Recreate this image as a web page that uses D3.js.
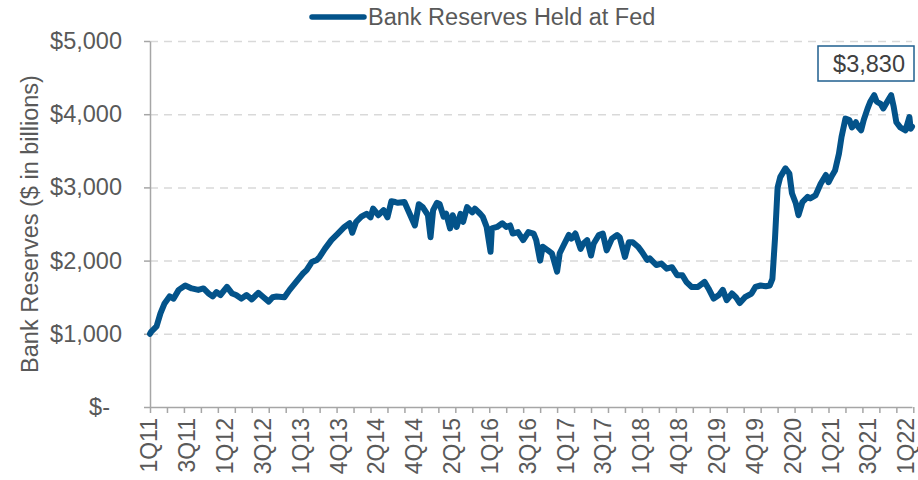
<!DOCTYPE html>
<html lang="en">
<head>
<meta charset="utf-8">
<title>Bank Reserves Held at Fed</title>
<script src="https://d3js.org/d3.v7.min.js"></script>
<style>
  body { margin: 0; background: #ffffff; }
  svg { display: block; font-family: "Liberation Sans", Arial, sans-serif; }
  .tick text { fill: #595959; font-size: 23.5px; }
</style>
</head>
<body>
<script>
// weekly observations, counted in weeks from the first week of 2011
const weeks = [0,1,5,8,11,15,18,22,27,32,37,41,45,48,51,54,59,63,66,70,74,78,83,87,91,94,97,103,107,112,
  117,120,124,128,130,134,139,144,149,153,155,158,162,166,169,171,175,179,182,185,188,190,195,199,203,206,209,213,215,217,
  220,222,225,227,230,232,235,238,240,243,247,249,253,255,258,261,262,266,270,273,276,278,282,286,290,294,296,299,301,305,
  308,312,314,317,321,323,326,330,332,335,338,340,344,347,350,354,358,360,364,367,370,374,377,381,383,388,392,396,400,404,
  408,411,415,420,425,428,432,436,439,442,446,449,452,456,461,464,468,472,475,477,479,481,483,487,490,492,495,497,500,504,
  506,510,514,518,520,523,525,528,530,533,536,538,541,543,545,547,550,552,555,557,560,562,565,568,570,572,575,579,582,583,584];

// $ billions
const reserves = [1000,1030,1100,1280,1410,1510,1480,1600,1660,1620,1600,1620,1550,1510,1570,1530,1640,1550,1530,1480,1530,1470,1560,1500,1440,1500,1510,1500,1600,1710,
  1820,1870,1980,2010,2050,2160,2280,2370,2460,2510,2380,2530,2600,2640,2590,2710,2620,2690,2590,2810,2800,2790,2800,2640,2480,2770,2730,2620,2320,2690,
  2790,2770,2600,2640,2440,2620,2460,2640,2530,2730,2660,2710,2640,2600,2460,2120,2440,2460,2510,2460,2480,2370,2390,2280,2390,2370,2280,2000,2190,2140,
  2100,1850,2100,2210,2350,2300,2370,2160,2230,2280,2070,2230,2350,2370,2140,2300,2350,2320,2050,2250,2250,2190,2120,2010,2030,1940,1960,1890,1910,1800,
  1800,1710,1640,1640,1710,1620,1480,1530,1600,1460,1550,1500,1420,1500,1550,1640,1660,1650,1660,1750,2300,3000,3140,3260,3190,2920,2780,2620,2800,2870,
  2850,2890,3050,3170,3070,3170,3230,3460,3690,3940,3920,3820,3890,3820,3780,3920,4080,4170,4260,4170,4140,4080,4170,4260,4100,3890,3820,3780,3960,3800,3830];

const tickLabels = ["1Q11","3Q11","1Q12","3Q12","1Q13","4Q13","2Q14","4Q14","2Q15","1Q16","3Q16",
  "1Q17","3Q17","1Q18","4Q18","2Q19","4Q19","2Q20","1Q21","3Q21","1Q22"];
const yTicks = [0, 1000, 2000, 3000, 4000, 5000];
const seriesName = "Bank Reserves Held at Fed";
const lastLabel = "$3,830";

const width = 918, height = 480;
const m = { left: 150, right: 912, top: 41, bottom: 407 };
const labelEvery = 29;   // category label interval (weeks)
const tickEvery = 13;    // tick mark interval (weeks)
const blue = "#03538a";
const grey = "#595959";

const x = d3.scaleLinear().domain([0, 584]).range([m.left, m.right]);
const y = d3.scaleLinear().domain([0, 5000]).range([m.bottom, m.top]);

const svg = d3.select("body").append("svg")
  .attr("width", width)
  .attr("height", height);

// gridlines
svg.append("g")
  .attr("transform", "translate(" + m.left + ",0)")
  .call(d3.axisLeft(y).tickValues(yTicks.slice(1)).tickSize(-(m.right - m.left)).tickFormat(""))
  .call(g => g.select(".domain").remove())
  .call(g => g.selectAll("line")
    .attr("stroke", "#d9d9d9")
    .attr("stroke-width", 1.5)
    .attr("stroke-dasharray", "8,6"));

// y axis
svg.append("g")
  .attr("transform", "translate(" + m.left + ",0)")
  .call(d3.axisLeft(y).tickValues(yTicks).tickSize(6).tickPadding(22).tickSizeOuter(0)
    .tickFormat(d => d === 0 ? "$-" : "$" + d3.format(",")(d)))
  .call(g => g.select(".domain").attr("stroke", "#a6a6a6").attr("stroke-width", 1.5))
  .call(g => g.selectAll("line").attr("stroke", "#a6a6a6").attr("stroke-width", 1.5))
  .call(g => g.selectAll("text").filter(d => d === 0).attr("dx", "-12"));

// x axis tick marks
svg.append("g")
  .attr("transform", "translate(0," + m.bottom + ")")
  .call(d3.axisBottom(x).tickValues(d3.range(0, 586, tickEvery)).tickSize(6).tickFormat("").tickSizeOuter(0))
  .call(g => g.select(".domain").attr("stroke", "#a6a6a6").attr("stroke-width", 1.5))
  .call(g => g.selectAll("line").attr("stroke", "#a6a6a6").attr("stroke-width", 1.5));

// x axis labels
svg.append("g")
  .attr("transform", "translate(0," + m.bottom + ")")
  .call(d3.axisBottom(x).tickValues(tickLabels.map((d, i) => i * labelEvery))
    .tickFormat((d, i) => tickLabels[i]).tickSize(0))
  .call(g => g.select(".domain").remove())
  .call(g => g.selectAll("text")
    .style("font-size", "23px")
    .attr("transform", "rotate(-90)")
    .attr("text-anchor", "end")
    .attr("x", -11)
    .attr("y", 0)
    .attr("dy", "0.3em"));

// series
const line = d3.line()
  .x((d, i) => x(weeks[i]))
  .y(d => y(d));

svg.append("path")
  .datum(reserves)
  .attr("fill", "none")
  .attr("stroke", blue)
  .attr("stroke-width", 6)
  .attr("stroke-linejoin", "round")
  .attr("stroke-linecap", "round")
  .attr("d", line);

// last value label
const lx = x(weeks[weeks.length - 1]);
svg.append("rect")
  .attr("x", lx - 94)
  .attr("y", 46)
  .attr("width", 96)
  .attr("height", 35)
  .attr("fill", "#ffffff")
  .attr("stroke", "#1f5f8f")
  .attr("stroke-width", 1.5);
svg.append("text")
  .attr("x", lx - 7)
  .attr("y", 64)
  .attr("dy", "0.35em")
  .attr("text-anchor", "end")
  .attr("fill", "#404040")
  .style("font-size", "23.5px")
  .text(lastLabel);

// legend
svg.append("line")
  .attr("x1", 312).attr("x2", 364)
  .attr("y1", 17).attr("y2", 17)
  .attr("stroke", blue)
  .attr("stroke-width", 5.5)
  .attr("stroke-linecap", "round");
svg.append("text")
  .attr("x", 368)
  .attr("y", 17)
  .attr("dy", "0.35em")
  .attr("fill", grey)
  .style("font-size", "23.5px")
  .text(seriesName);

// y title
svg.append("text")
  .attr("transform", "translate(30," + ((m.top + m.bottom) / 2) + ") rotate(-90)")
  .attr("text-anchor", "middle")
  .attr("dy", "0.35em")
  .attr("fill", grey)
  .style("font-size", "23.5px")
  .text("Bank Reserves ($ in billions)");
</script>
</body>
</html>
